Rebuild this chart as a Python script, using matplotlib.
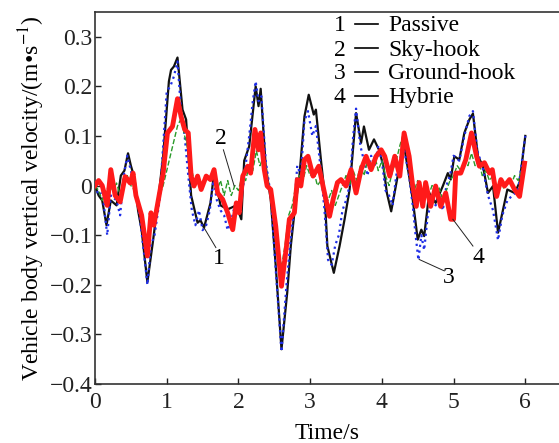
import matplotlib
matplotlib.use("Agg")
import matplotlib.pyplot as plt
from matplotlib.lines import Line2D

plt.rcParams['font.family'] = ['Liberation Serif', 'DejaVu Serif']
plt.rcParams['mathtext.fontset'] = 'stix'

# 1 - Passive (black solid)
t_passive = [0, 0.05, 0.1, 0.16, 0.22, 0.3, 0.36, 0.41, 0.46, 0.5, 0.55, 0.6, 0.65, 0.73,
             0.81, 0.88, 0.95, 1.03, 1.06, 1.1, 1.15, 1.22, 1.27, 1.34, 1.43, 1.47, 1.52,
             1.61, 1.66, 1.75, 1.85, 1.97, 2.04, 2.08, 2.15, 2.24, 2.28, 2.31, 2.38, 2.45,
             2.52, 2.6, 2.68, 2.73, 2.78, 2.85, 2.92, 2.98, 3.05, 3.08, 3.15, 3.2, 3.24,
             3.33, 3.41, 3.48, 3.55, 3.64, 3.71, 3.75, 3.82, 3.89, 3.96, 4.02, 4.07, 4.13,
             4.22, 4.31, 4.38, 4.43, 4.5, 4.55, 4.59, 4.66, 4.75, 4.85, 4.92, 4.96, 5.01,
             5.08, 5.15, 5.22, 5.27, 5.34, 5.41, 5.48, 5.55, 5.62, 5.68, 5.75, 5.85, 5.92, 6.0]
v_passive = [0, -0.02, -0.03, -0.08, -0.03, -0.04, 0.02, 0.03, 0.065, 0.04, 0.015, -0.05, -0.09, -0.195,
             -0.11, -0.03, 0.06, 0.21, 0.233, 0.24, 0.258, 0.153, 0.133, -0.02, -0.075, -0.07, -0.085,
             -0.035, 0.025, -0.04, -0.048, -0.04, -0.068, 0.05, 0.079, 0.2, 0.16, 0.195, 0.039, -0.028,
             -0.162, -0.33, -0.216, -0.122, -0.055, 0.019, 0.139, 0.183, 0.143, 0.153, 0.052, -0.015, -0.122,
             -0.176, -0.122, -0.068, -0.008, 0.146, 0.086, 0.119, 0.072, 0.093, 0.072, 0.04, -0.015, -0.052,
             0.019, 0.079, 0.019, -0.028, -0.109, -0.089, -0.102, -0.015, -0.035, -0.001, 0.025, 0.012, 0.059,
             0.052, 0.106, 0.133, 0.145, 0.059, 0.039, -0.015, -0.001, -0.095, -0.055, -0.008, -0.015, 0.006, 0.1]

# 2 - Sky-hook (green dashed)
t_sky = [round(0.05 * i, 2) for i in range(121)]
v_sky = [0.0, -0.01, -0.03, -0.01, 0.0, -0.01, 0.005, -0.02, 0.005, 0.02,
         0.0, -0.01, -0.03, -0.06, -0.1, -0.11, -0.07, -0.06, -0.02, 0.0,
         0.03, 0.06, 0.09, 0.12, 0.135, 0.1, 0.07, 0.03, 0.0, 0.01,
         0.0, 0.015, 0.01, 0.03, -0.01, 0.01, -0.02, 0.01, -0.02, 0.0,
         -0.01, 0.02, 0.01, 0.04, 0.03, 0.07, 0.04, 0.06, 0.02, -0.02,
         -0.07, -0.13, -0.165, -0.12, -0.06, -0.04, 0.0, 0.02, 0.01, 0.04,
         0.02, 0.03, 0.0, 0.01, -0.02, -0.03, -0.01, -0.04, -0.02, 0.0,
         0.02, 0.0, 0.03, 0.01, 0.04, 0.02, 0.05, 0.03, 0.06, 0.03,
         0.05, 0.02, 0.0, 0.03, 0.05, 0.08, 0.105, 0.07, 0.02, -0.01,
         0.01, -0.02, 0.0, -0.02, 0.0, -0.02, -0.005, -0.03, -0.01, 0.01,
         0.02, 0.04, 0.03, 0.05, 0.04, 0.065, 0.04, 0.05, 0.02, 0.03,
         0.01, 0.02, -0.01, 0.0, -0.005, 0.01, 0.0, 0.02, 0.01, 0.03, 0.04]

# 3 - Ground-hook (blue dotted)
t_ground = [0, 0.05, 0.1, 0.17, 0.22, 0.3, 0.35, 0.4, 0.45, 0.5, 0.55, 0.62, 0.67, 0.73, 0.78,
            0.83, 0.9, 0.95, 1.0, 1.05, 1.1, 1.15, 1.2, 1.25, 1.3, 1.35, 1.4, 1.45, 1.5, 1.55,
            1.6, 1.65, 1.7, 1.75, 1.8, 1.85, 1.9, 1.95, 2.0, 2.05, 2.1, 2.15, 2.2, 2.24, 2.28,
            2.32, 2.38, 2.45, 2.52, 2.6, 2.67, 2.72, 2.78, 2.82, 2.87, 2.92, 2.97, 3.03, 3.08,
            3.15, 3.2, 3.25, 3.3, 3.35, 3.4, 3.45, 3.5, 3.55, 3.6, 3.64, 3.7, 3.75, 3.8, 3.85,
            3.9, 3.95, 4.0, 4.05, 4.1, 4.15, 4.2, 4.3, 4.38, 4.43, 4.47, 4.51, 4.55, 4.59, 4.64,
            4.7, 4.75, 4.8, 4.85, 4.9, 4.95, 5.0, 5.08, 5.15, 5.22, 5.27, 5.33, 5.4, 5.48, 5.55,
            5.62, 5.68, 5.75, 5.82, 5.9, 6.0]
v_ground = [0, -0.02, -0.01, -0.1, -0.02, -0.03, -0.06, 0.02, 0.06, 0.03, 0.0, -0.06, -0.12, -0.2, -0.12,
            -0.1, -0.03, 0.08, 0.19, 0.2, 0.22, 0.25, 0.15, 0.1, 0.02, -0.05, -0.08, -0.05, -0.09, -0.08,
            -0.05, 0.01, -0.03, -0.05, -0.06, -0.09, -0.07, -0.04, -0.06, -0.02, 0.04, 0.1, 0.17, 0.21, 0.17,
            0.18, 0.05, -0.02, -0.17, -0.335, -0.2, -0.12, -0.04, 0.04, 0.02, 0.13, 0.15, 0.1, 0.12,
            0.03, -0.05, -0.15, -0.16, -0.12, -0.1, -0.05, -0.03, 0.0, 0.1, 0.155, 0.08, 0.05, 0.02, 0.06,
            0.04, 0.08, 0.05, -0.01, -0.02, -0.04, 0.02, 0.08, 0.02, -0.04, -0.1, -0.15, -0.1, -0.13, -0.06,
            -0.03, -0.04, -0.02, -0.05, 0.0, 0.02, 0.06, 0.05, 0.1, 0.14, 0.15, 0.07, 0.04, -0.02, -0.05,
            -0.11, -0.06, -0.03, -0.02, -0.01, 0.1]

# 4 - Hybrid (red thick)
t_hybrid = [0, 0.05, 0.1, 0.17, 0.22, 0.28, 0.35, 0.42, 0.49, 0.53, 0.57, 0.65, 0.73, 0.78, 0.82,
            0.9, 0.95, 1.01, 1.08, 1.15, 1.2, 1.25, 1.3, 1.34, 1.38, 1.43, 1.48, 1.55, 1.61, 1.66,
            1.71, 1.78, 1.85, 1.92, 1.97, 2.01, 2.06, 2.13, 2.17, 2.23, 2.28, 2.31, 2.36, 2.4, 2.45,
            2.52, 2.6, 2.67, 2.71, 2.78, 2.82, 2.87, 2.92, 2.97, 3.04, 3.12, 3.2, 3.27, 3.32, 3.38,
            3.43, 3.5, 3.57, 3.64, 3.71, 3.78, 3.85, 3.92, 3.99, 4.04, 4.11, 4.18, 4.25, 4.31, 4.38,
            4.43, 4.48, 4.52, 4.57, 4.61, 4.68, 4.75, 4.82, 4.89, 4.96, 5.0, 5.03, 5.1, 5.17, 5.25,
            5.32, 5.36, 5.43, 5.5, 5.54, 5.6, 5.66, 5.71, 5.78, 5.85, 5.92, 5.99]
v_hybrid = [0, 0.01, 0.0, -0.04, 0.032, -0.02, -0.033, 0.018, 0.005, 0.025, -0.02, -0.06, -0.142, -0.055, -0.08,
            -0.015, 0.025, 0.106, 0.119, 0.175, 0.139, 0.113, 0.106, 0.019, -0.001, 0.019, -0.008, 0.019, 0.012, 0.032,
            -0.015, -0.028, -0.055, -0.089, -0.035, -0.055, 0.019, 0.039, 0.025, 0.113, 0.072, 0.106, 0.032, -0.001, -0.008,
            -0.082, -0.203, -0.122, -0.068, -0.055, 0.012, -0.001, 0.052, 0.059, 0.019, 0.039, -0.015, -0.062, -0.028, 0.006,
            0.012, -0.001, 0.032, -0.015, 0.032, 0.059, 0.032, 0.059, 0.072, 0.059, 0.019, 0.059, 0.019, 0.106, 0.059,
            -0.001, -0.042, 0.006, -0.042, 0.006, -0.042, -0.001, -0.042, -0.015, -0.068, -0.068, 0.025, 0.025, 0.052, 0.106,
            0.059, 0.039, 0.046, 0.025, 0.032, -0.022, 0.012, -0.001, 0.012, -0.008, -0.022, 0.045]

legend_labels = ["Passive", "Sky-hook", "Ground-hook", "Hybrie"]
xticks = [0, 1, 2, 3, 4, 5, 6]
yticks = [-0.4, -0.3, -0.2, -0.1, 0, 0.1, 0.2, 0.3]

FS = 17

fig = plt.figure(figsize=(5.59, 4.43), dpi=100)
ax = fig.add_axes([0.170, 0.1332, 0.830, 0.840])

ax.plot(t_passive, v_passive, color='#111111', lw=1.6, zorder=2)
ax.plot(t_ground, v_ground, color='#1f2ee6', lw=1.6, ls=':', zorder=3)
ax.plot(t_sky, v_sky, color='#2a9a2a', lw=1.0, ls='--', zorder=4)
ax.plot(t_hybrid, v_hybrid, color='#ff1a1a', lw=3.5, zorder=5)

ax.set_xlim(0, 6.47)
ax.set_ylim(-0.4, 0.35)
ax.set_xticks(xticks)
ax.set_yticks(yticks)
ax.set_xticklabels([str(x) for x in xticks])
ax.set_yticklabels(['\u22120.4', '\u22120.3', '\u22120.2', '\u22120.1', '0', '0.1', '0.2', '0.3'])
ax.tick_params(direction='in', length=4, width=1, labelsize=FS, colors='#222222')
ax.tick_params(axis='y', pad=2)
ax.tick_params(axis='x', pad=6)
for s in ax.spines.values():
    s.set_linewidth(1.2)
    s.set_color('#333333')
ax.spines['right'].set_visible(False)

ax.set_xlabel('Time/s', fontsize=FS, labelpad=7)
ax.set_ylabel('Vehicle body vertical velocity/(m\u2022s$^{-1}$)', fontsize=FS, labelpad=2)

# curve labels with leader lines
ax.plot([1.52, 1.685], [-0.085, -0.125], color='#222222', lw=0.7, zorder=6)
ax.text(1.73, -0.148, '1', fontsize=FS, ha='center', va='center')
ax.plot([1.79, 1.94], [0.072, -0.001], color='#222222', lw=0.7, zorder=6)
ax.text(1.75, 0.095, '2', fontsize=FS, ha='center', va='center')
ax.plot([4.52, 4.87], [-0.149, -0.172], color='#222222', lw=0.7, zorder=6)
ax.text(4.93, -0.185, '3', fontsize=FS, ha='center', va='center')
ax.plot([4.99, 5.27], [-0.068, -0.122], color='#222222', lw=0.7, zorder=6)
ax.text(5.34, -0.145, '4', fontsize=FS, ha='center', va='center')

# legend drawn by hand
rows_y = [0.942, 0.887, 0.834, 0.779]
for i, (lab, yy) in enumerate(zip(legend_labels, rows_y)):
    fig.text(0.608, yy, str(i + 1), fontsize=FS, ha='center', va='center')
    fig.add_artist(Line2D([0.635, 0.676], [yy + 0.004, yy + 0.004], color='black', lw=1.2,
                          transform=fig.transFigure))
    fig.text(0.694, yy, lab, fontsize=FS, ha='left', va='center')

fig.savefig('out.png', dpi=100)
